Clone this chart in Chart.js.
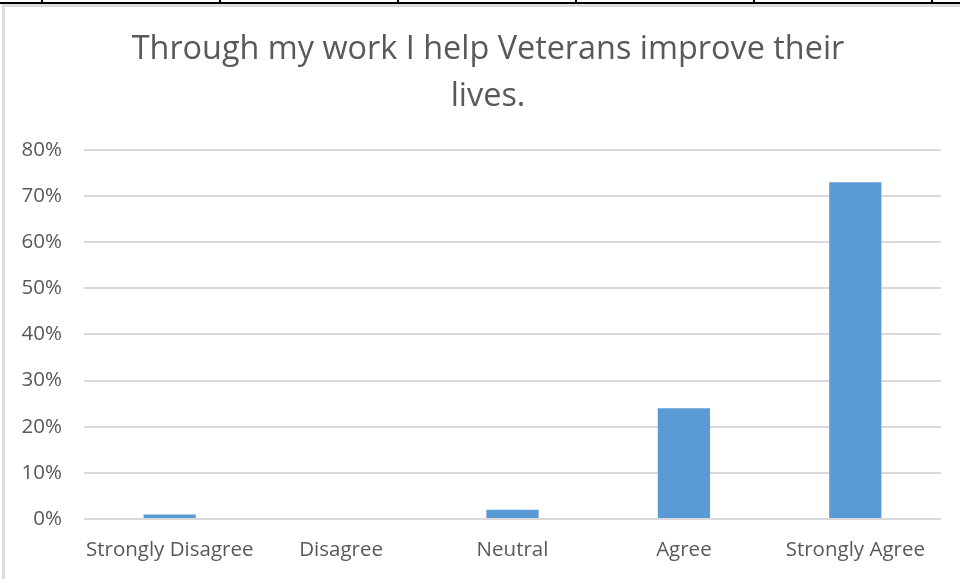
<!DOCTYPE html>
<html>
<head>
<meta charset="utf-8">
<script src="https://cdn.jsdelivr.net/npm/chart.js@4/dist/chart.umd.min.js"></script>
<style>
  html, body { margin:0; padding:0; background:#fff; }
  #wrap { position:relative; width:960px; height:579px; overflow:hidden; }
  #chart { position:absolute; left:0; top:0; }
  /* table frame around the chart */
  .rule { position:absolute; left:0; top:2px; width:960px; height:2px; background:#000; }
  .tick { position:absolute; top:0; width:2px; height:3px; background:#000; }
  .edgeTop { position:absolute; left:2px; top:4px; width:958px; height:3px; background:#dcdcdc; }
  .edgeLeft { position:absolute; left:2px; top:4px; width:3px; height:575px; background:#dcdcdc; }
</style>
</head>
<body>
<div id="wrap">
  <!-- the chart runs past the right edge of the frame -->
  <canvas id="chart" width="976" height="579"></canvas>
  <div class="rule"></div>
  <div class="edgeTop"></div>
  <div class="edgeLeft"></div>
</div>
<script>
const categories = ['Strongly Disagree', 'Disagree', 'Neutral', 'Agree', 'Strongly Agree'];
const percents = [1, 0, 2, 24, 73];
const titleLines = ['Through my work I help Veterans improve their', 'lives.'];
const tickXs = [41, 219, 397, 575, 753, 931];

const TEXT = '#595959';
const GRID = '#d9d9d9';
const BAR = '#5b9bd5';
const FONT = '"Open Sans", Lato, sans-serif';

// little ticks of the table rule above the chart
const wrap = document.getElementById('wrap');
tickXs.forEach(x => {
  const t = document.createElement('div');
  t.className = 'tick';
  t.style.left = x + 'px';
  wrap.appendChild(t);
});

Chart.defaults.font.family = FONT;
Chart.defaults.color = TEXT;

new Chart(document.getElementById('chart'), {
  type: 'bar',
  data: {
    labels: categories,
    datasets: [{
      data: percents,
      backgroundColor: BAR,
      borderWidth: 0,
      barPercentage: 0.305,
      categoryPercentage: 1
    }]
  },
  options: {
    responsive: false,
    animation: false,
    layout: { padding: 0 },
    plugins: {
      legend: { display: false },
      tooltip: { enabled: false },
      title: {
        display: true,
        text: titleLines,
        color: TEXT,
        font: { size: 32.4, weight: 'normal', lineHeight: 1.45 },
        padding: { top: 26, bottom: 30 }
      }
    },
    scales: {
      x: {
        grid: { display: false },
        border: { display: false },
        ticks: { font: { size: 20.5 }, color: TEXT, padding: 11, maxRotation: 0 },
        afterFit: s => { s.height = 60; }
      },
      y: {
        min: 0,
        max: 80,
        grid: { color: GRID, lineWidth: 2, drawTicks: false },
        border: { display: false },
        ticks: {
          stepSize: 10,
          font: { size: 20.5 },
          color: TEXT,
          padding: 22,
          callback: v => v + '%'
        },
        afterFit: s => { s.width = 84; }
      },
      // empty strip on the right so the title centres over the whole chart
      gap: {
        type: 'linear',
        position: 'right',
        grid: { display: false },
        border: { display: false },
        ticks: { display: false },
        afterFit: s => { s.width = 35; }
      }
    }
  }
});
</script>
</body>
</html>
